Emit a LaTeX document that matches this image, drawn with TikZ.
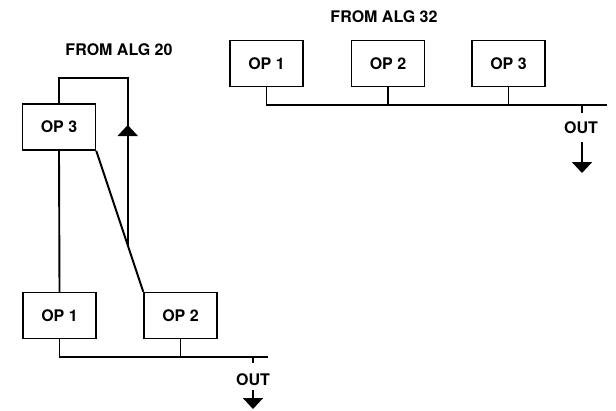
\documentclass[tikz,border=0pt]{standalone}
\usepackage{fontspec}
\setmainfont{TeX Gyre Heros}
\usetikzlibrary{arrows.meta,positioning,calc}
\tikzset{
  blk/.style={draw,line width=1.5pt,minimum width=73pt,minimum height=46pt,inner sep=0pt},
  wire/.style={line width=1.9pt},
  outarr/.style={wire,-{Triangle[width=20pt,length=11pt]}},
  uparr/.style={wire,-{Triangle[width=20pt,length=11pt]}},
}
\begin{document}
\begin{tikzpicture}[x=1pt,y=-1pt,font=\fontsize{16}{19}\selectfont\bfseries]
  \useasboundingbox (0,0) rectangle (616,410);
  % from alg 20
  \node (t20) at (119,50) {FROM ALG 20};
  \node[blk] (c) at (59,127) {OP 3};
  \node[blk] (a) at (59.5,315.5) {OP 1};
  \node[blk] (b) at (180.5,315.5) {OP 2};
  \coordinate (lt) at ($(c.north)+(0,-25)$);
  \coordinate (j) at ($(c.south east)!0.67!(b.north west)$);
  \draw[wire] (c.south) -- (a.north);
  \draw[wire] (c.south east) -- (b.north west);
  \draw[wire] (c.north) -- (lt) -| (j);
  \draw[uparr] (j) -- (j |- 0,125);
  \coordinate (busL) at (268,357);
  \coordinate (outL) at (253,357);
  \draw[wire] (a.south) |- (busL);
  \draw[wire] (b.south) -- (b.south |- busL);
  \draw[wire] (outL) -- ++(0,6);
  \node (oL) at (253,380) {OUT};
  \draw[outarr] (253,390) -- (253,409);
  % from alg 32
  \node (t32) at (384,17) {FROM ALG 32};
  \node[blk] (p1) at (266.5,63.5) {OP 1};
  \node[blk] (p2) at (388,63.5) {OP 2};
  \node[blk] (p3) at (508.5,63.5) {OP 3};
  \coordinate (busR) at (607,105);
  \coordinate (outR) at (582,105);
  \draw[wire] (p1.south) |- (busR);
  \draw[wire] (p2.south) -- (p2.south |- busR);
  \draw[wire] (p3.south) -- (p3.south |- busR);
  \draw[wire] (outR) -- ++(0,8);
  \node (oR) at (581,128) {OUT};
  \draw[outarr] (582,142) -- (582,173);
\end{tikzpicture}
\end{document}
